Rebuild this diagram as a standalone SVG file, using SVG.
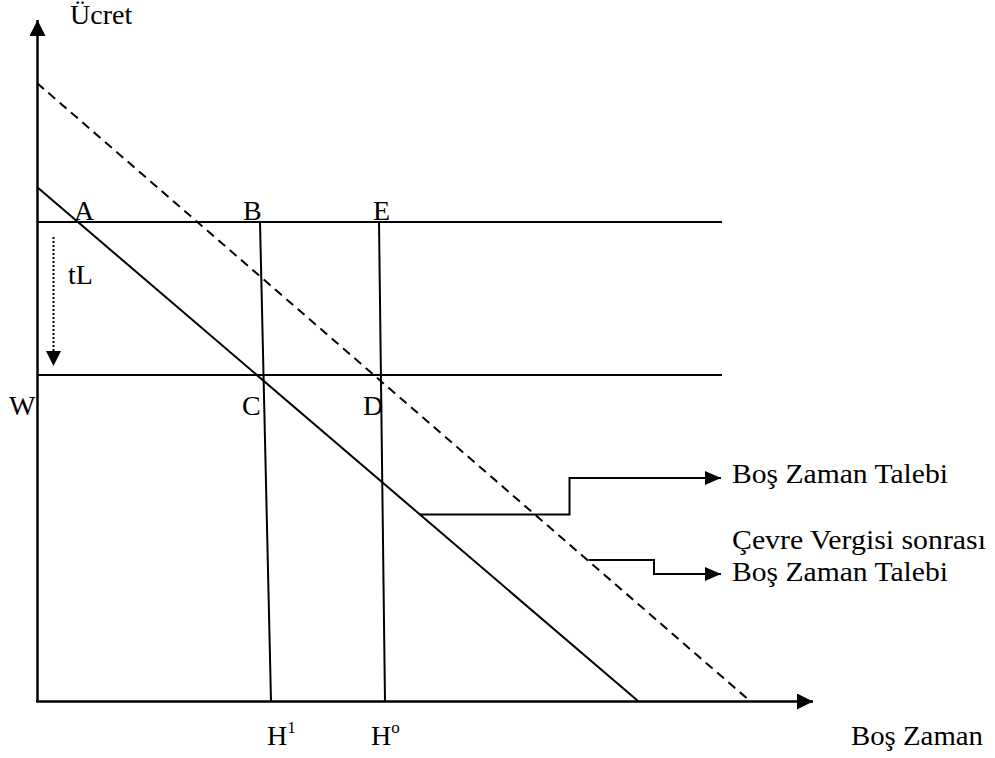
<svg xmlns="http://www.w3.org/2000/svg" width="995" height="758" viewBox="0 0 995 758">
<style>
  .ln { stroke: #000; stroke-width: 2; fill: none; }
  .ax { stroke: #000; stroke-width: 2.5; fill: none; }
  .dash { stroke: #000; stroke-width: 2; fill: none; stroke-dasharray: 9 6; }
  .dot { stroke: #000; stroke-width: 2; fill: none; stroke-dasharray: 2 2; }
  .t { font-family: 'Liberation Serif', 'DejaVu Serif', serif; font-size: 28px; fill: #000; }
</style>
<defs>
  <marker id="ahBig" markerUnits="userSpaceOnUse" markerWidth="16" markerHeight="16" viewBox="0 0 16 16" refX="16" refY="8" orient="auto">
    <path d="M0,0 L16,8 L0,16 Z" fill="#000"/>
  </marker>
  <marker id="ahSmall" markerUnits="userSpaceOnUse" markerWidth="16" markerHeight="14" viewBox="0 0 16 14" refX="16" refY="7" orient="auto">
    <path d="M0,0 L16,7 L0,14 Z" fill="#000"/>
  </marker>
</defs>

<g id="axes">
  <line class="ax" x1="37.5" y1="702" x2="37.5" y2="20" marker-end="url(#ahBig)"/>
  <line class="ax" x1="36" y1="701.5" x2="813" y2="701.5" marker-end="url(#ahBig)"/>
</g>

<g id="wage-lines">
  <line class="ln" x1="37" y1="222" x2="722" y2="222"/>
  <line class="ln" x1="37" y1="375" x2="722" y2="375"/>
</g>

<g id="demand-lines">
  <line class="ln" x1="37" y1="187" x2="638" y2="701"/>
  <line class="dash" x1="37" y1="83" x2="750" y2="701"/>
</g>

<g id="hours-lines">
  <line class="ln" x1="260" y1="222" x2="271" y2="701"/>
  <line class="ln" x1="379" y1="222" x2="385" y2="701"/>
</g>

<g id="connectors">
  <polyline class="dot" points="53.5,237 53.5,352"/>
  <path d="M46,351 L61,351 L53.5,366 Z" fill="#000"/>
  <polyline class="ln" points="419.5,514.5 569.5,514.5 569.5,478 721,478" marker-end="url(#ahSmall)"/>
  <polyline class="ln" points="588.5,560 654,560 654,574 721,574" marker-end="url(#ahSmall)"/>
</g>

<g id="labels" font-family="'Liberation Serif', 'DejaVu Serif', serif">
  <text class="t" x="70" y="24">Ücret</text>
  <text class="t" x="74" y="220">A</text>
  <text class="t" x="243" y="220">B</text>
  <text class="t" x="373" y="220">E</text>
  <text class="t" x="68" y="284">tL</text>
  <text class="t" x="9" y="415">W</text>
  <text class="t" x="242" y="415">C</text>
  <text class="t" x="363" y="415">D</text>
  <text class="t" x="267" y="745">H<tspan font-size="17" dy="-12">1</tspan></text>
  <text class="t" x="371" y="745">H<tspan font-size="17" dy="-12">o</tspan></text>
  <text class="t" x="851" y="745" textLength="132" lengthAdjust="spacingAndGlyphs">Boş Zaman</text>
  <text class="t" x="732" y="483" textLength="216" lengthAdjust="spacingAndGlyphs">Boş Zaman Talebi</text>
  <text class="t" x="732" y="549" textLength="254" lengthAdjust="spacingAndGlyphs">Çevre Vergisi sonrası</text>
  <text class="t" x="732" y="581" textLength="216" lengthAdjust="spacingAndGlyphs">Boş Zaman Talebi</text>
</g>
</svg>
